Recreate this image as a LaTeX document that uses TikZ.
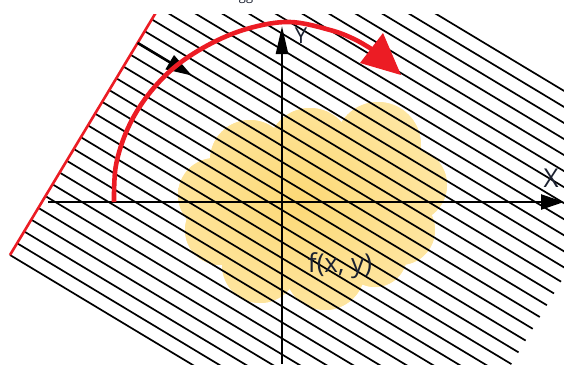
\documentclass[tikz,border=0pt]{standalone}
\usepackage{fontspec}
\setmainfont{Open Sans}
\usetikzlibrary{arrows.meta}
\definecolor{redarc}{HTML}{EC1C24}
\definecolor{cloudlight}{HTML}{FEE7A4}
\definecolor{clouddark}{HTML}{FDD976}
\definecolor{inkcol}{HTML}{1B2130}
\begin{document}
\begin{tikzpicture}[x=1pt,y=-1pt,
  hatchline/.style={line width=1.7pt},
  axisline/.style={line width=2.4pt},
  redline/.style={draw=redarc, line width=2.6pt},
  labeltext/.style={text=inkcol, inner sep=0pt}]
\useasboundingbox (0,0) rectangle (564,364);
\def\cloudshape{(250,160) circle[radius=40] (310,150) circle[radius=42]
  (378,145) circle[radius=43] (410,185) circle[radius=37]
  (400,230) circle[radius=35] (375,255) circle[radius=32]
  (325,270) circle[radius=40] (260,265) circle[radius=38]
  (220,230) circle[radius=35] (215,195) circle[radius=37]
  (310,205) circle[radius=75]}
\begin{scope}
  \clip (0,14) rectangle (564,364);
  % yellow cloud
  \fill[cloudlight] \cloudshape;
  \begin{scope}
    \clip \cloudshape;
    \shade[inner color=clouddark, outer color=cloudlight] (300,200) ellipse[x radius=150, y radius=125];
  \end{scope}
  % hatch lines
  \foreach \k in {0,...,31}
    \draw[hatchline] ({10+7.088*\k},{255-11.781*\k}) -- ++(416.4,250.5);
  % red edge
  \coordinate (edgeA) at (10,255);
  \coordinate (edgeB) at (231.7,-113.4);
  \draw[redline] (edgeA) -- (edgeB);
  % small black arrow
  \coordinate (sa) at (137.6,42.9);
  \coordinate (sb) at (192,75.6);
  \draw[line width=2.6pt, -{Triangle[length=26pt,width=16pt]}] (sa) -- (sb);
  % axes
  \coordinate (ybot) at (282,364);
  \coordinate (ytop) at (282,26);
  \coordinate (xleft) at (48,202);
  \coordinate (xright) at (564,202);
  \draw[axisline, -{Triangle[length=28pt,width=12pt]}] (ybot) -- (ytop);
  \draw[axisline, -{Triangle[length=23pt,width=15pt]}] (xleft) -- (xright);
  % red rotation arc
  \draw[draw=redarc, line width=4.6pt] plot[smooth, tension=0.6] coordinates
    {(114,202) (116,165) (128,128) (148,95) (176,66) (212,43) (250,28) (290,22) (330,30) (354,39) (373,50)};
  \coordinate (h1) at (383,33);
  \coordinate (h2) at (401,75);
  \coordinate (h3) at (360,63);
  \fill[redarc] (h1) -- (h2) -- (h3) -- cycle;
  % labels
  \node[labeltext, font=\fontsize{22}{22}\selectfont] (ylab) at (301,36) {Y};
  \node[labeltext, font=\fontsize{26}{26}\selectfont] (xlab) at (551,178) {X};
  \node[labeltext, font=\fontsize{26}{26}\selectfont] (fxy) at (340,266) {f(x, y)};
\end{scope}
\node[labeltext, font=\fontsize{13}{13}\selectfont, anchor=base] (topfrag) at (246,0) {gg};
\end{tikzpicture}
\end{document}
